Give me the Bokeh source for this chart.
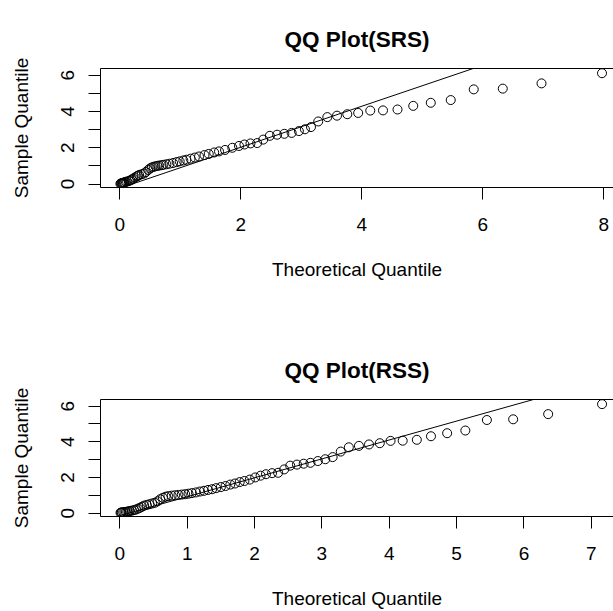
from bokeh.plotting import figure
from bokeh.layouts import column
from bokeh.models import Range1d, FixedTicker, LinearAxis, Slope
from bokeh.embed import file_html
from bokeh.resources import INLINE

# ---- data ----
sample_quantile = [
    0.02, 0.03, 0.04, 0.05, 0.06, 0.07, 0.08, 0.10, 0.12, 0.14,
    0.17, 0.20, 0.25, 0.30, 0.36, 0.42, 0.46, 0.50, 0.54, 0.58,
    0.66, 0.78, 0.86, 0.92, 0.95, 0.98, 1.00, 1.02, 1.04, 1.06,
    1.09, 1.12, 1.16, 1.21, 1.25, 1.30, 1.34, 1.40, 1.46, 1.52,
    1.60, 1.66, 1.74, 1.80, 1.88, 2.00, 2.10, 2.18, 2.24, 2.26,
    2.45, 2.66, 2.72, 2.77, 2.82, 2.92, 3.02, 3.14, 3.45, 3.69,
    3.77, 3.85, 3.92, 4.05, 4.06, 4.11, 4.31, 4.48, 4.63, 5.22,
    5.26, 5.55, 6.11,
]
srs_theoretical = [
    0.01, 0.02, 0.03, 0.04, 0.05, 0.06, 0.07, 0.08, 0.10, 0.12,
    0.15, 0.17, 0.20, 0.22, 0.25, 0.28, 0.30, 0.32, 0.36, 0.40,
    0.43, 0.47, 0.50, 0.53, 0.56, 0.59, 0.62, 0.65, 0.69, 0.72,
    0.77, 0.82, 0.88, 0.94, 0.99, 1.05, 1.10, 1.17, 1.24, 1.31,
    1.40, 1.47, 1.56, 1.64, 1.74, 1.86, 1.97, 2.06, 2.16, 2.27,
    2.37, 2.48, 2.60, 2.72, 2.84, 2.96, 3.06, 3.16, 3.28, 3.43,
    3.59, 3.76, 3.94, 4.14, 4.35, 4.59, 4.85, 5.14, 5.47, 5.85,
    6.33, 6.97, 7.97,
]
rss_theoretical = [
    0.01, 0.02, 0.03, 0.05, 0.07, 0.09, 0.11, 0.13, 0.15, 0.18,
    0.21, 0.24, 0.27, 0.30, 0.33, 0.36, 0.40, 0.44, 0.48, 0.52,
    0.56, 0.60, 0.64, 0.68, 0.72, 0.77, 0.82, 0.87, 0.92, 0.97,
    1.02, 1.07, 1.13, 1.19, 1.25, 1.31, 1.37, 1.43, 1.50, 1.57,
    1.64, 1.71, 1.78, 1.85, 1.93, 2.01, 2.09, 2.17, 2.26, 2.35,
    2.44, 2.53, 2.63, 2.73, 2.83, 2.94, 3.05, 3.16, 3.28, 3.40,
    3.55, 3.70, 3.86, 4.02, 4.20, 4.41, 4.62, 4.86, 5.13, 5.45,
    5.84, 6.36, 7.16,
]
srs_line_intercept, srs_line_slope = -0.23, 1.13
rss_line_intercept, rss_line_slope = -0.14, 1.06

srs_x_ticks = [0, 2, 4, 6, 8]
rss_x_ticks = [0, 1, 2, 3, 4, 5, 6, 7]
y_ticks = [0, 1, 2, 3, 4, 5, 6]
y_unlabelled = [1, 3, 5]
y_limits = (-0.19, 6.37)

titles = ["QQ Plot(SRS)", "QQ Plot(RSS)"]
x_label = "Theoretical Quantile"
y_label = "Sample Quantile"

FONT = "Liberation Sans"


def make_panel(title, xs, ys, xticks, x_range, intercept, slope, height, top_border,
               bottom):
    p = figure(width=613, height=height, output_backend="svg", toolbar_location=None,
               x_range=Range1d(*x_range), y_range=Range1d(*y_limits),
               min_border_left=100, min_border_right=0, min_border_top=top_border,
               min_border_bottom=bottom, title=title)
    p.outline_line_color = None
    p.grid.visible = False
    p.background_fill_color = "white"
    p.border_fill_color = "white"

    p.title.text_font = FONT
    p.title.text_font_size = "22.5px"
    p.title.text_font_style = "bold"
    p.title.text_color = "black"
    p.title.align = "center"
    p.title.offset = 6
    p.title.standoff = 33

    xax = p.below[0]
    yax = p.left[0]
    for ax in (xax, yax):
        ax.axis_line_color = "black"
        ax.axis_line_width = 1
        ax.major_tick_line_color = "black"
        ax.major_tick_out = 12
        ax.major_tick_in = 0
        ax.minor_tick_line_color = None
        ax.major_label_text_font = FONT
        ax.major_label_text_font_size = "19px"
        ax.major_label_text_color = "black"
        ax.axis_label_text_font = FONT
        ax.axis_label_text_font_size = "19px"
        ax.axis_label_text_font_style = "normal"
        ax.axis_label_text_color = "black"

    xax.major_label_standoff = 18
    xax.axis_label_standoff = 25
    yax.major_label_standoff = 14
    yax.axis_label_standoff = 27

    xax.ticker = FixedTicker(ticks=xticks)
    xax.axis_label = x_label
    yax.ticker = FixedTicker(ticks=y_ticks)
    yax.major_label_overrides = {t: "" for t in y_unlabelled}
    yax.major_label_orientation = "vertical"
    yax.axis_label = y_label

    top = LinearAxis(ticker=FixedTicker(ticks=[]), major_label_text_font_size="0px",
                     axis_line_color="black", axis_line_width=1,
                     major_tick_line_color=None, minor_tick_line_color=None,
                     major_tick_out=0, major_tick_in=0,
                     major_label_standoff=0, axis_label_standoff=0)
    p.add_layout(top, "above")

    p.add_layout(Slope(gradient=slope, y_intercept=intercept,
                       line_color="black", line_width=1))
    p.scatter(xs, ys, marker="circle", size=9, fill_color=None,
              line_color="black", line_width=1)
    return p


p1 = make_panel(titles[0], srs_theoretical, sample_quantile, srs_x_ticks,
                (-0.319, 8.16), srs_line_intercept, srs_line_slope, 339, 68, 152)
p2 = make_panel(titles[1], rss_theoretical, sample_quantile, rss_x_ticks,
                (-0.287, 7.33), rss_line_intercept, rss_line_slope, 272, 60, 93)

layout = column(p1, p2, spacing=0)
open("out.html", "w").write(file_html(layout, INLINE))
